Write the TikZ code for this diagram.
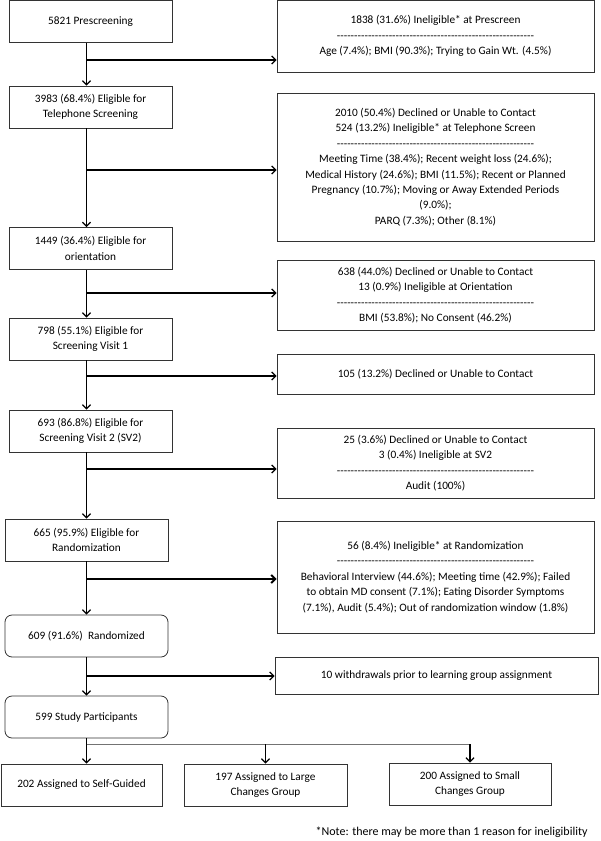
\documentclass[tikz,border=0pt]{standalone}
\usepackage{fontspec}
\setmainfont{Carlito}
\usetikzlibrary{arrows.meta,positioning}

\newcommand{\dashsep}{\foreach \k in {1,...,57}{-\kern0pt}}

\tikzset{
  box/.style={draw=black!80, line width=0.8pt, align=center, minimum width=163pt,
    minimum height=42pt, inner sep=2pt, font=\fontsize{11.3}{15.4}\selectfont},
  sidebox/.style={box, minimum width=317pt},
  roundbox/.style={box, rounded corners=7pt},
  flow/.style={->, line width=1.3pt},
}

\begin{document}
\begin{tikzpicture}[x=1pt, y=-1pt, >={Straight Barb[length=4pt,width=8pt]}]
  \useasboundingbox (0,0) rectangle (600,841);

  % main column
  \node[box] (prescreen) at (90.5,21.5) {5821 Prescreening};
  \node[box] (phone) at (90.5,107) {3983 (68.4\%) Eligible for\\Telephone Screening};
  \node[box] (orient) at (90.5,248.5) {1449 (36.4\%) Eligible for\\orientation};
  \node[box] (visit1) at (90.5,339) {798 (55.1\%) Eligible for\\Screening Visit 1};
  \node[box] (visit2) at (90.5,431) {693 (86.8\%) Eligible for\\Screening Visit 2 (SV2)};
  \node[box] (elig) at (86.5,540) {665 (95.9\%) Eligible for\\Randomization};
  \node[roundbox] (randomized) at (86.5,636) {609 (91.6\%)\ \ Randomized};
  \node[roundbox] (study) at (86.5,717) {599 Study Participants};

  % exclusions
  \node[sidebox, minimum height=72pt] (out1) at (435.5,36)
    {1838 (31.6\%) Ineligible* at Prescreen\\\dashsep\\Age (7.4\%); BMI (90.3\%); Trying to Gain Wt. (4.5\%)};
  \node[sidebox, minimum height=148pt] (out2) at (435.5,167)
    {2010 (50.4\%) Declined or Unable to Contact\\524 (13.2\%) Ineligible* at Telephone Screen\\\dashsep\\
     Meeting Time (38.4\%); Recent weight loss (24.6\%);\\Medical History (24.6\%); BMI (11.5\%); Recent or Planned\\
     Pregnancy (10.7\%); Moving or Away Extended Periods\\(9.0\%);\\PARQ (7.3\%); Other (8.1\%)};
  \node[sidebox, minimum height=70pt] (out3) at (435.5,295)
    {638 (44.0\%) Declined or Unable to Contact\\13 (0.9\%) Ineligible at Orientation\\\dashsep\\BMI (53.8\%); No Consent (46.2\%)};
  \node[sidebox, minimum height=40pt] (out4) at (435.5,374) {105 (13.2\%) Declined or Unable to Contact};
  \node[sidebox, minimum height=70pt] (out5) at (435.5,463)
    {25 (3.6\%) Declined or Unable to Contact\\3 (0.4\%) Ineligible at SV2\\\dashsep\\Audit (100\%)};
  \node[sidebox, minimum height=112pt] (out6) at (435.5,577)
    {56 (8.4\%) Ineligible* at Randomization\\\dashsep\\Behavioral Interview (44.6\%); Meeting time (42.9\%); Failed\\
     to obtain MD consent (7.1\%); Eating Disorder Symptoms\\(7.1\%), Audit (5.4\%); Out of randomization window (1.8\%)};
  \node[sidebox, minimum width=323pt, minimum height=37pt] (out7) at (436.5,675.5)
    {10 withdrawals prior to learning group assignment};

  % groups
  \node[box, minimum width=161pt] (self) at (81.5,785) {202 Assigned to Self-Guided};
  \node[box] (large) at (265.5,785) {197 Assigned to Large\\Changes Group};
  \node[box, minimum width=162pt] (small) at (470,784) {200 Assigned to Small\\Changes Group};

  \node[anchor=east, font=\fontsize{12}{13}\selectfont] (note) at (591,832)
    {*Note: there may be more than 1 reason for ineligibility};

  % trunk
  \coordinate (trunk) at (86.5,0);
  \draw[flow] (prescreen.south -| trunk) -- (phone.north -| trunk);
  \draw[flow] (phone.south -| trunk) -- (orient.north -| trunk);
  \draw[flow] (orient.south -| trunk) -- (visit1.north -| trunk);
  \draw[flow] (visit1.south -| trunk) -- (visit2.north -| trunk);
  \draw[flow] (visit2.south -| trunk) -- (elig.north);
  \draw[flow] (elig.south) -- (randomized.north);
  \draw[flow] (randomized.south) -- (study.north);
  \draw[flow] (study.south) -- (study.south |- self.north);

  % branches
  \coordinate (j1) at (86.5,60);
  \coordinate (j2) at (86.5,170);
  \coordinate (j3) at (86.5,293);
  \coordinate (j4) at (86.5,376);
  \coordinate (j5) at (86.5,469);
  \coordinate (j6) at (86.5,579);
  \coordinate (j7) at (86.5,676);
  \draw[flow] (j1) -- (j1 -| out1.west);
  \draw[flow] (j2) -- (j2 -| out2.west);
  \draw[flow] (j3) -- (j3 -| out3.west);
  \draw[flow] (j4) -- (j4 -| out4.west);
  \draw[flow] (j5) -- (j5 -| out5.west);
  \draw[flow, line width=2pt] (j6) -- (j6 -| out6.west);
  \draw[flow] (j7) -- (j7 -| out7.west);

  \coordinate (split) at (86.5,744);
  \draw[black!55, line width=0.8pt] (split) -- (split -| small.north);
  \draw[flow] (split -| large.north) -- (large.north);
  \draw[flow] (split -| small.north) -- (small.north);
\end{tikzpicture}
\end{document}
